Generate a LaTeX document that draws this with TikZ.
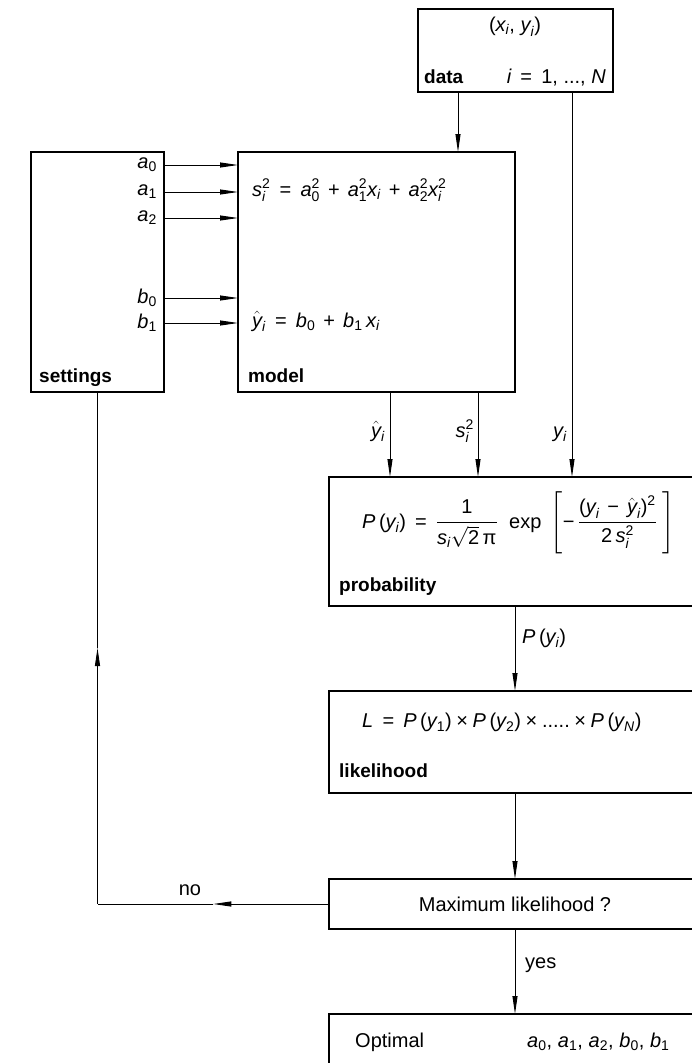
\documentclass[tikz,border=0pt]{standalone}
\usepackage{amsmath}
\usepackage{fontspec}
\setmainfont{Liberation Sans}
\usetikzlibrary{arrows.meta,calc}

% formula pieces set in the text font
\newcommand{\vv}[1]{\text{\itshape #1}}
\newcommand{\nn}[1]{\text{\upshape #1}}
\newcommand{\vi}[1]{\vv{#1}_{\vv{i}}}
\newcommand{\ai}[1]{\vv{a}_{\nn{#1}}}
\newcommand{\bi}[1]{\vv{b}_{\nn{#1}}}
\newcommand{\opeq}{\mathrel{\,\nn{=}\,}}
\newcommand{\opplus}{\mathbin{\,\nn{+}\,}}
\newcommand{\opminus}{\mathbin{\,\nn{−}\,}}
\newcommand{\optimes}{\mathbin{\nn{×}}}

\tikzset{
  blk/.style={draw, line width=1.4pt, inner sep=0pt, outer sep=0pt},
  lbl/.style={font=\fontsize{19}{23}\selectfont\bfseries, anchor=base west, inner sep=0pt},
  txt/.style={inner sep=0pt},
  conn/.style={line width=0.9pt},
  arr/.style={line width=0.9pt, -{Triangle[length=18pt,width=5pt]}}
}

\begin{document}
\begin{tikzpicture}[x=1pt,y=-1pt,font=\fontsize{20}{24}\selectfont]

\path[use as bounding box, clip] (0,0) rectangle (692,1063);

% Boxes
\node[blk, minimum width=195pt, minimum height=83pt] (data) at (515.5,50.5) {};
\node[blk, minimum width=133pt, minimum height=240pt] (sett) at (97.5,272) {};
\node[blk, minimum width=277pt, minimum height=240pt] (mdl) at (376.5,272) {};
\node[blk, minimum width=372pt, minimum height=129pt] (prob) at (515,541.5) {};
\node[blk, minimum width=372pt, minimum height=102pt] (lik) at (515,742) {};
\node[blk, minimum width=372pt, minimum height=50pt] (maxl) at (515,904) {Maximum likelihood ?};
\node[blk, minimum width=372pt, minimum height=86pt] (opt) at (515,1057) {};

% Box titles
\node[lbl] (datalbl) at (424,83) {data};
\node[lbl] (settlbl) at (39,382) {settings};
\node[lbl] (mdllbl) at (248,382) {model};
\node[lbl] (problbl) at (339,591) {probability};
\node[lbl] (liklbl) at (339,777) {likelihood};

% Data box
\node[txt] (xy) at (515,27) {$\nn{(}\vi{x}\nn{,}\;\vi{y}\nn{)}$};
\node[txt, anchor=base east] (irange) at (606,83) {$\vv{i} \opeq \nn{1, ..., }\vv{N}$};

% Model box
\node[txt, anchor=base west] (seq) at (252,196)
  {$\vi{s}^{\nn{2}} \opeq \ai{0}^{\nn{2}} \opplus \ai{1}^{\nn{2}}\vi{x} \opplus \ai{2}^{\nn{2}}\vi{x}^{\nn{2}}$};
\node[txt, anchor=base west] (yeq) at (252,327)
  {$\hat{\vv{y}}_{\vv{i}} \opeq \bi{0} \opplus \bi{1}\,\vi{x}$};

% Probability and likelihood
\node[txt, anchor=base west] (peq) at (362,528)
  {$\vv{P}\,\nn{(}\vi{y}\nn{)} \opeq \dfrac{\nn{1}}{\vi{s}\sqrt{\nn{2}}\,\nn{π}}\;\;\nn{exp}\;\left[\nn{−}\,\dfrac{\nn{(}\vi{y} \opminus \hat{\vv{y}}_{\vv{i}}\nn{)}^{\nn{2}}}{\nn{2}\,\vi{s}^{\nn{2}}}\;\right]$};
\node[txt, anchor=base west] (leq) at (362,727)
  {$\vv{L} \opeq \vv{P}\,\nn{(}\vv{y}_{\nn{1}}\nn{)} \optimes \vv{P}\,\nn{(}\vv{y}_{\nn{2}}\nn{)} \optimes \nn{.....} \optimes \vv{P}\,\nn{(}\vv{y}_{\vv{N}}\nn{)}$};

% Optimal box
\node[txt, anchor=base west] (optlbl) at (355,1047) {Optimal};
\node[txt, anchor=base west] (optpar) at (527,1047)
  {$\ai{0}\nn{,}\;\ai{1}\nn{,}\;\ai{2}\nn{,}\;\bi{0}\nn{,}\;\bi{1}$};

% Settings to model
\foreach \nm/\sym/\yy in {a0/{\ai{0}}/165, a1/{\ai{1}}/192, a2/{\ai{2}}/218, b0/{\bi{0}}/298, b1/{\bi{1}}/323} {
  \coordinate (p\nm) at (0,\yy);
  \node[txt, anchor=east] (\nm) at (157,\yy) {$\sym$};
  \draw[arr] (sett.east |- p\nm) -- (mdl.west |- p\nm);
}

% Data to model and probability
\coordinate (cx) at (458,0);
\coordinate (cy) at (572,0);
\draw[arr] (data.south -| cx) -- (mdl.north -| cx);
\draw[arr] (data.south -| cy) -- (prob.north -| cy);

% Model to probability
\coordinate (cyh) at (390,0);
\coordinate (cs) at (478,0);
\draw[arr] (mdl.south -| cyh) -- (prob.north -| cyh);
\draw[arr] (mdl.south -| cs) -- (prob.north -| cs);
\node[txt, anchor=base east] (lyh) at (385,437) {$\hat{\vv{y}}_{\vv{i}}$};
\node[txt, anchor=base east] (ls) at (474,437) {$\vi{s}^{\nn{2}}$};
\node[txt, anchor=base east] (ly) at (567,437) {$\vi{y}$};

% Down the chain
\draw[arr] (prob.south) -- (lik.north);
\node[txt, anchor=base west] (lp) at (522,643) {$\vv{P}\,\nn{(}\vi{y}\nn{)}$};
\draw[arr] (lik.south) -- (maxl.north);
\draw[arr] (maxl.south) -- (opt.north);
\node[txt, anchor=base west] (lyes) at (525,968) {yes};

% Feedback loop
\coordinate (nocorner) at (sett.south |- maxl.west);
\coordinate (notip) at ($(nocorner)!0.5!(maxl.west)$);
\coordinate (fbtip) at ($(sett.south)!0.5!(nocorner)$);
\draw[arr] (maxl.west) -- (notip);
\draw[conn] (notip) -- (nocorner);
\draw[arr] (nocorner) -- (fbtip);
\draw[conn] (fbtip) -- (sett.south);
\node[txt, anchor=base] (lno) at (190,895) {no};

\end{tikzpicture}
\end{document}
